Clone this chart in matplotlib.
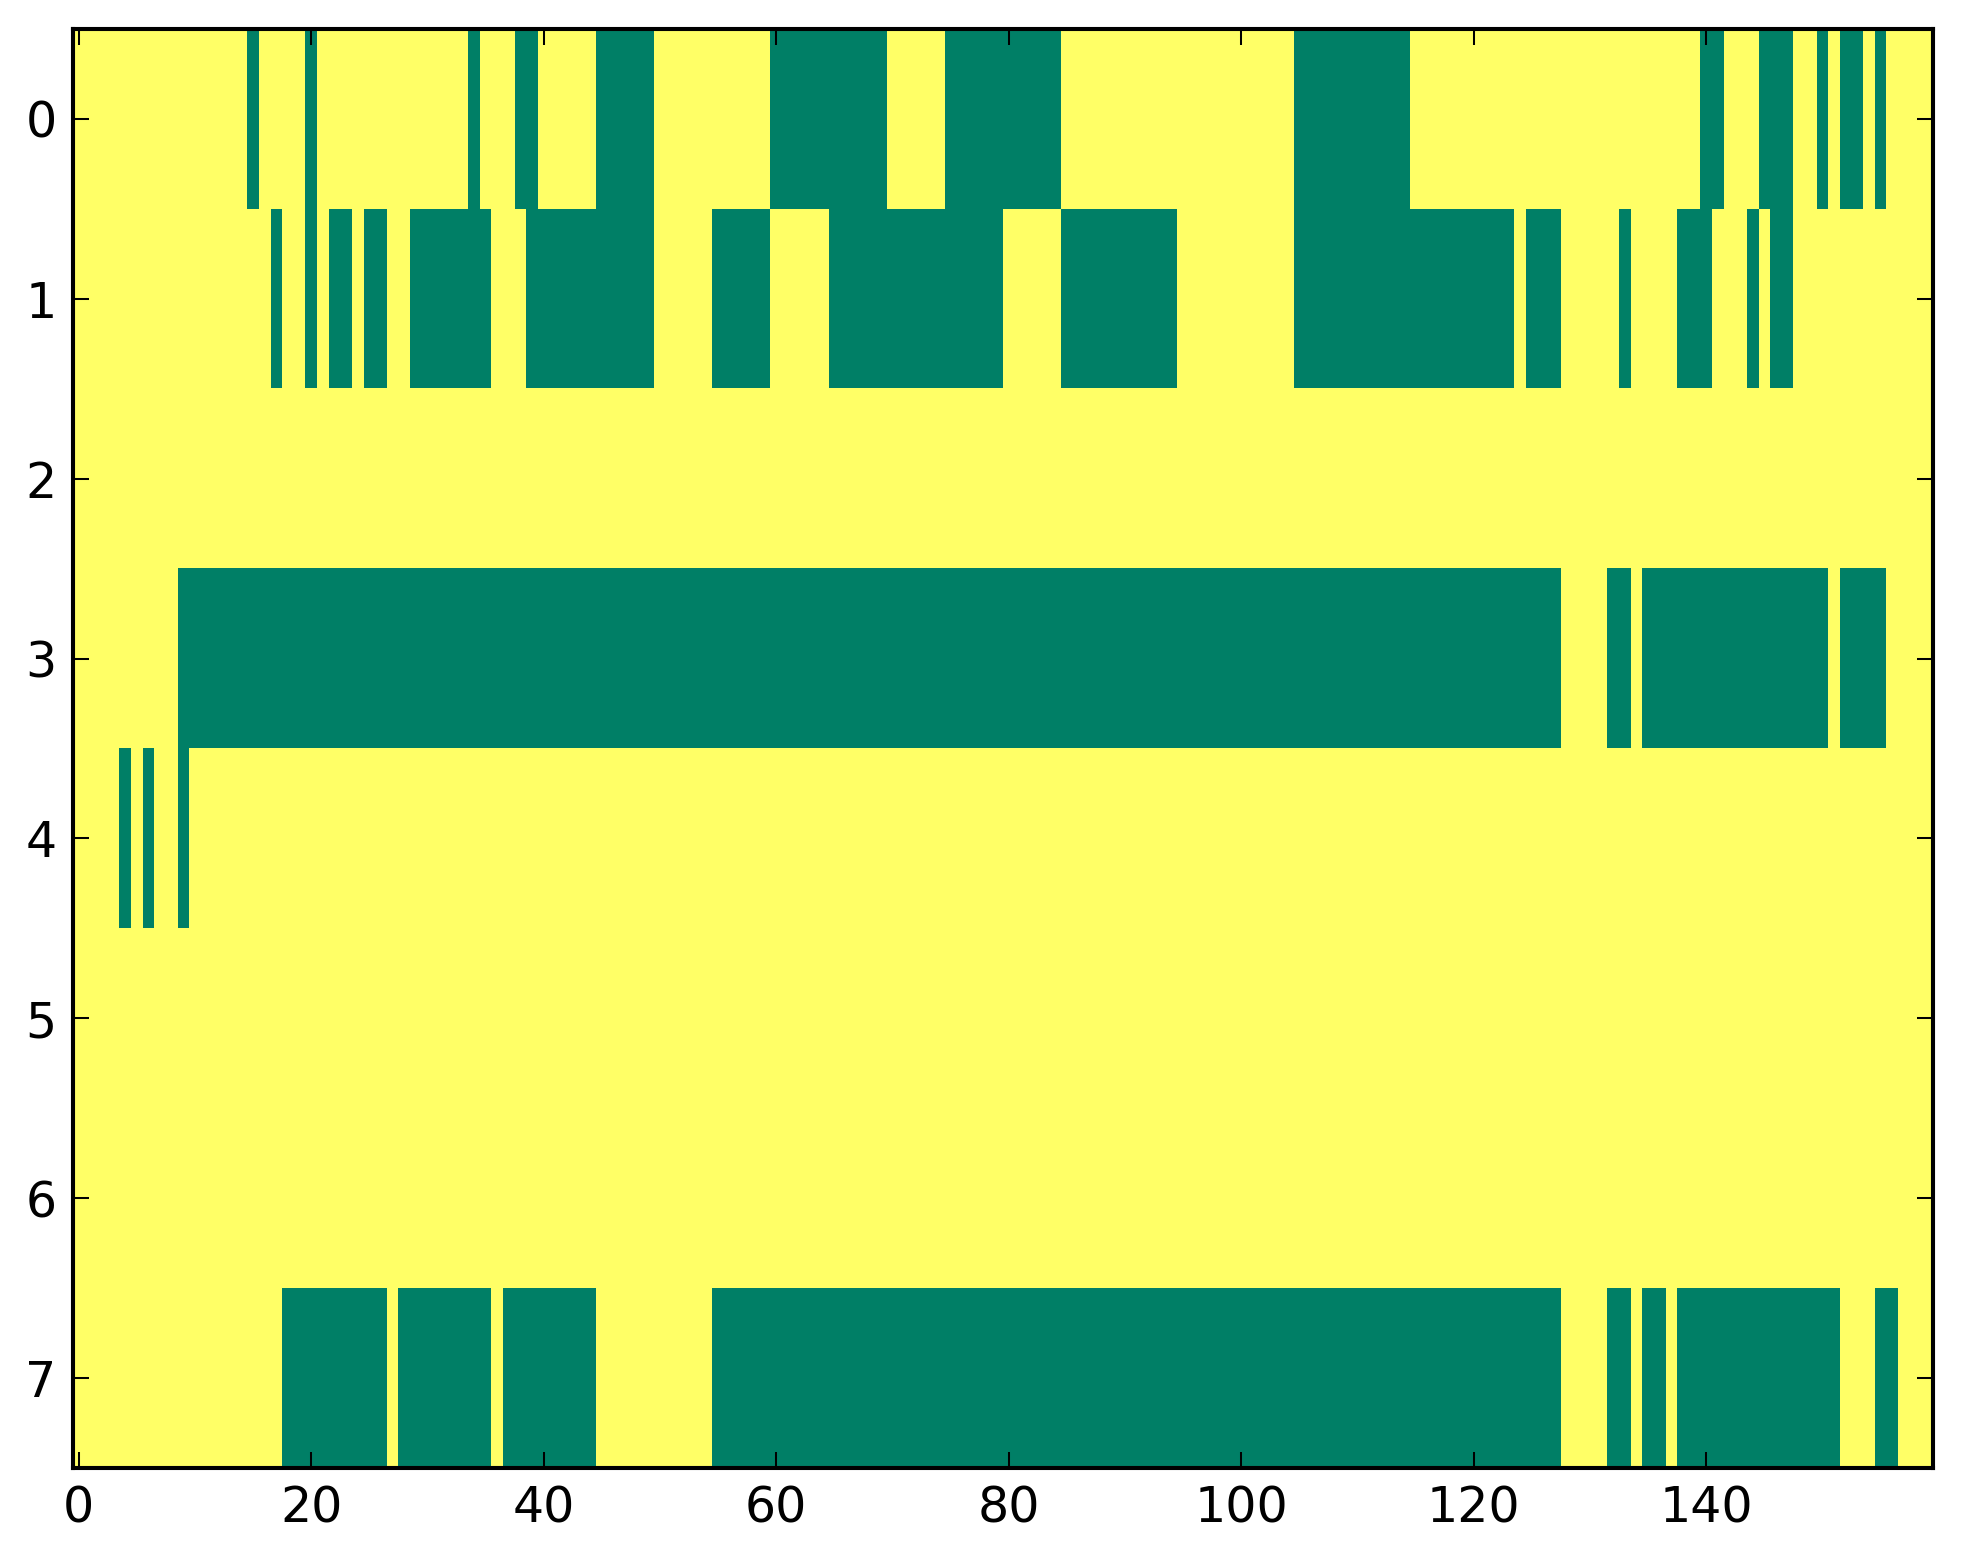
import numpy as np
import matplotlib
matplotlib.use("Agg")
import matplotlib.pyplot as plt

n_cols = 160
n_rows = 8

# green (value 0) runs per row, as (first column, last column), inclusive
row0 = [(15, 15), (20, 20), (34, 34), (38, 39), (45, 49), (60, 69), (75, 84),
        (105, 114), (140, 141), (145, 147), (150, 150), (152, 153), (155, 155)]
row1 = [(17, 17), (20, 20), (22, 23), (25, 26), (29, 35), (39, 49), (55, 59),
        (65, 79), (85, 94), (105, 123), (125, 127), (133, 133), (138, 140),
        (144, 144), (146, 147)]
row2 = []
row3 = [(9, 127), (132, 133), (135, 150), (152, 155)]
row4 = [(4, 4), (6, 6), (9, 9)]
row5 = []
row6 = []
row7 = [(18, 26), (28, 35), (37, 44), (55, 127), (132, 133), (135, 136),
        (138, 151), (155, 156)]
rows = [row0, row1, row2, row3, row4, row5, row6, row7]

xticks = [0, 20, 40, 60, 80, 100, 120, 140]
yticks = [0, 1, 2, 3, 4, 5, 6, 7]

grid = np.ones((n_rows, n_cols))
for r, runs in enumerate(rows):
    for a, b in runs:
        grid[r, a:b + 1] = 0

plt.rcParams['font.family'] = ['DejaVu Sans']
plt.rcParams['font.size'] = 12

dpi = 294
fig = plt.figure(figsize=(1963 / dpi, 1564 / dpi), dpi=dpi)
ax = fig.add_axes([73 / 1963, 1 - 1468 / 1564, (1933 - 73) / 1963, (1468 - 29) / 1564])
ax.imshow(grid, cmap='summer', vmin=0, vmax=1, aspect='auto', interpolation='nearest')

ax.set_xticks(xticks)
ax.set_yticks(yticks)
ax.set_xlim(-0.5, n_cols - 0.5)
ax.set_ylim(n_rows - 0.5, -0.5)
ax.tick_params(direction='in', top=True, right=True, length=4, width=0.5,
               pad=4, labelsize=12)
for s in ax.spines.values():
    s.set_linewidth(1.0)

fig.savefig('out.png', dpi=dpi, facecolor='white')
